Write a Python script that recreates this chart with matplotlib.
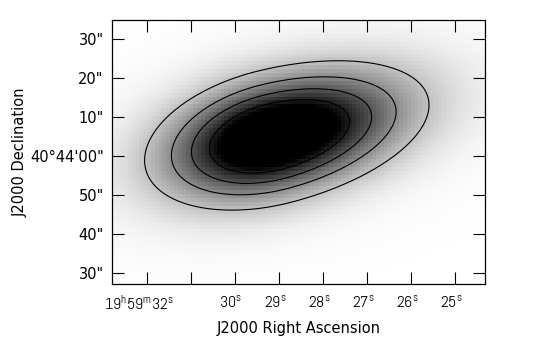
import numpy as np
import matplotlib
matplotlib.use('Agg')
import matplotlib.pyplot as plt
from matplotlib import font_manager
from matplotlib.transforms import ScaledTranslation

plt.rcParams['font.family'] = ['DejaVu Sans']


def has_font(name):
    try:
        font_manager.findfont(font_manager.FontProperties(family=name),
                              fallback_to_default=False)
        return True
    except Exception:
        return False


# narrow face for the sexagesimal RA tick labels
if has_font('Abel'):
    tick_font, tick_size, tick_stretch = 'Abel', 11.5, 'normal'
else:
    tick_font, tick_size, tick_stretch = 'DejaVu Sans', 9.0, 'condensed'

plt.rcParams['mathtext.fontset'] = 'custom'
plt.rcParams['mathtext.rm'] = tick_font

# ---- axis ticks / labels ----
ra_tick_sec = [32, 31, 30, 29, 28, 27, 26, 25]
ra_tick_labels = [r'19$^{\rm h}$59$^{\rm m}$32$^{\rm s}$', '',
                  r'30$^{\rm s}$', r'29$^{\rm s}$', r'28$^{\rm s}$',
                  r'27$^{\rm s}$', r'26$^{\rm s}$', r'25$^{\rm s}$']
dec_tick_arcsec = [-30, -20, -10, 0, 10, 20, 30]
dec_tick_labels = ['30"', '40"', '50"', "40\u00b044'00\"", '10"', '20"', '30"']
ra_limits = (32.79, 24.33)
dec_limits = (-32.7, 34.9)
dec_ref_deg = 40.733

# ---- source model: skewed elliptical gaussian core + faint broad halo ----
src_ra_sec = 29.15
src_dec_arcsec = 4.9
core_sigma_major_east = 17.6
core_sigma_major_west = 21.6
core_sigma_minor = 9.05
core_tilt_deg = 14.0
core_peak = 1.0
halo_peak = 0.05
halo_scale = 1.9
pixel_arcsec = 1.0
contour_levels = [0.19, 0.355, 0.52, 0.685, 0.85]
gray_max = 0.78

cosd = np.cos(np.radians(dec_ref_deg))
sec_per_arcsec = 1.0 / (15.0 * cosd)


def model(ra, dec):
    u = -(ra - src_ra_sec) / sec_per_arcsec
    v = dec - src_dec_arcsec
    t = np.radians(core_tilt_deg)
    a = u * np.cos(t) + v * np.sin(t)
    b = -u * np.sin(t) + v * np.cos(t)
    s_major = np.where(a < 0, core_sigma_major_east, core_sigma_major_west)
    r2 = (a / s_major) ** 2 + (b / core_sigma_minor) ** 2
    return core_peak * np.exp(-0.5 * r2) + halo_peak * np.exp(-0.5 * r2 / halo_scale ** 2)


pix_s = pixel_arcsec * sec_per_arcsec
ra_edges = np.arange(ra_limits[0] + pix_s, ra_limits[1] - 2 * pix_s, -pix_s)
dec_edges = np.arange(dec_limits[0] - pixel_arcsec, dec_limits[1] + 2 * pixel_arcsec, pixel_arcsec)
ra_c = 0.5 * (ra_edges[:-1] + ra_edges[1:])
dec_c = 0.5 * (dec_edges[:-1] + dec_edges[1:])
RA, DEC = np.meshgrid(ra_c, dec_c)
img = model(RA, DEC)

ra_f = np.linspace(ra_limits[0], ra_limits[1], 500)
dec_f = np.linspace(dec_limits[0], dec_limits[1], 400)
RAF, DECF = np.meshgrid(ra_f, dec_f)
fine = model(RAF, DECF)

fig = plt.figure(figsize=(5.37, 3.55), dpi=100)
ax = fig.add_axes([112 / 537, 1 - 284 / 355, 373 / 537, 264 / 355])
ax.pcolormesh(ra_edges, dec_edges, img, cmap='gray_r', vmin=0, vmax=gray_max,
              shading='flat')
ax.contour(RAF, DECF, fine, levels=contour_levels, colors='black', linewidths=0.8)
ax.set_xlim(*ra_limits)
ax.set_ylim(*dec_limits)

ax.set_xticks(ra_tick_sec)
ax.set_xticklabels(ra_tick_labels)
ax.set_yticks(dec_tick_arcsec)
ax.set_yticklabels(dec_tick_labels)
ax.tick_params(direction='in', length=8.3, width=0.8, top=True, right=True,
               labelsize=10.5, colors='black')
ax.tick_params(axis='x', pad=7)
ax.tick_params(axis='y', pad=6)
for sp in ax.spines.values():
    sp.set_linewidth(0.9)

for i, lab in enumerate(ax.get_xticklabels()):
    lab.set_fontfamily(tick_font)
    lab.set_fontsize(tick_size)
    lab.set_fontstretch(tick_stretch)
    dx = -8.0 if i == 0 else -4.0
    lab.set_transform(lab.get_transform() + ScaledTranslation(dx / 100, 0, fig.dpi_scale_trans))

ax.set_xlabel('J2000 Right Ascension', fontsize=10.5, labelpad=6)
ax.set_ylabel('J2000 Declination', fontsize=10.5)
ax.yaxis.set_label_coords((28 - 112) / 373, 0.5)

fig.savefig('out.png', dpi=100)
